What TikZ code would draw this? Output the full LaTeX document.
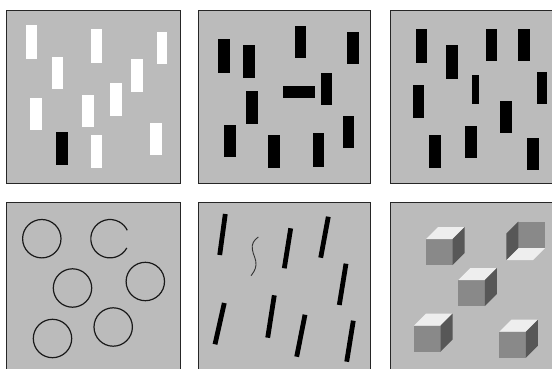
\documentclass[tikz,border=0pt]{standalone}
\definecolor{panelbg}{HTML}{BBBBBB}
\definecolor{cubefront}{HTML}{898989}
\definecolor{cubeside}{HTML}{575757}
\definecolor{cubetop}{HTML}{EEEEEE}
\begin{document}
\begin{tikzpicture}[x=1pt,y=-1pt,
  panel/.style={draw=black!85, line width=1pt, fill=panelbg},
  wbar/.style={fill=white},
  bbar/.style={fill=black},
  ring/.style={draw=black!90, line width=1.2pt},
  slant/.style={draw=black, line width=4.8pt, line cap=butt},
  squig/.style={draw=black!80, line width=0.9pt},
  cube/.pic={
    \fill[cubefront] (0,0) rectangle (26.5,26);
    \fill[cubetop] (0,0) -- (12,-12) -- (38.5,-12) -- (26.5,0) -- cycle;
    \fill[cubeside] (26.5,0) -- (38.5,-12) -- (38.5,14) -- (26.5,26) -- cycle;
  }]
\useasboundingbox (0,0) rectangle (552,369);
\fill[white] (0,0) rectangle (552,369);
\clip (0,0) rectangle (552,369);

% panels
\draw[panel] (6.5,10.5) rectangle (180,183);
\draw[panel] (198,10.5) rectangle (370.5,183);
\draw[panel] (390,10.5) rectangle (563,183);
\draw[panel] (6.5,202.3) rectangle (180,376);
\draw[panel] (198,202.3) rectangle (370.5,376);
\draw[panel] (390,202.3) rectangle (563,376);

% panel 1
\fill[wbar] (25.7,25) rectangle (37.3,58.7);
\fill[wbar] (52,57.3) rectangle (63.3,89.3);
\fill[wbar] (91.3,29.3) rectangle (101.7,63);
\fill[wbar] (157.3,32.3) rectangle (167.3,64.3);
\fill[wbar] (130.7,58.7) rectangle (142.7,92.3);
\fill[wbar] (110,83.3) rectangle (122,115.7);
\fill[wbar] (30,98.3) rectangle (41.7,130.3);
\fill[wbar] (82.3,95.3) rectangle (94.3,127.3);
\fill[bbar] (56,132) rectangle (68,165.3);
\fill[wbar] (91.3,134.7) rectangle (101.7,168.3);
\fill[wbar] (149.7,123) rectangle (161.7,155.3);

% panel 2
\fill[bbar] (218.3,39.3) rectangle (230,73);
\fill[bbar] (243.3,45.3) rectangle (255,77.7);
\fill[bbar] (294.7,26.3) rectangle (306.3,58.3);
\fill[bbar] (347.3,32.3) rectangle (358.7,64.3);
\fill[bbar] (246.3,91) rectangle (258,124.3);
\fill[bbar] (282.7,86.3) rectangle (314.7,98);
\fill[bbar] (320.7,73.3) rectangle (332.3,105.3);
\fill[bbar] (224.3,124.7) rectangle (236,156.7);
\fill[bbar] (268.3,135) rectangle (279.7,168.3);
\fill[bbar] (313.3,133.3) rectangle (323.7,166.7);
\fill[bbar] (342.7,116) rectangle (354.3,147.7);

% panel 3
\fill[bbar] (415.7,29.3) rectangle (427.3,63);
\fill[bbar] (446.3,45.3) rectangle (458,79);
\fill[bbar] (486,29.3) rectangle (497.3,61.3);
\fill[bbar] (518.3,29.3) rectangle (529.7,61.3);
\fill[bbar] (472.3,74.7) rectangle (478.7,104);
\fill[bbar] (537.3,71.7) rectangle (547.3,104);
\fill[bbar] (412.7,85) rectangle (424.3,118.3);
\fill[bbar] (500.3,101) rectangle (512,133.3);
\fill[bbar] (429,135) rectangle (440.7,168.3);
\fill[bbar] (465.3,126) rectangle (477,158);
\fill[bbar] (527,137.7) rectangle (538.7,169.7);

% panel 4
\draw[ring] (41.8,238.7) circle[radius=19.2];
\draw[ring] ([shift={(29:19.2)}]110,238.7) arc[start angle=29, end angle=334, radius=19.2];
\draw[ring] (72.5,288) circle[radius=19.2];
\draw[ring] (145.3,281.5) circle[radius=19.2];
\draw[ring] (52.5,338.5) circle[radius=19.2];
\draw[ring] (113.2,327) circle[radius=19.2];

% panel 5
\draw[slant] (225.3,214) -- (219.7,255);
\draw[slant] (290.7,228.3) -- (284.3,268.3);
\draw[slant] (328.3,216.7) -- (320.7,257.7);
\draw[slant] (346,263.7) -- (339.3,305);
\draw[slant] (224.3,303) -- (215,344.3);
\draw[slant] (274.3,295.3) -- (267.7,337.7);
\draw[slant] (305,314.7) -- (296.7,356.7);
\draw[slant] (353.3,320.7) -- (346.7,361.7);
\draw[squig] (258.3,237) .. controls (254,240) and (251.5,244) .. (252.3,249)
  .. controls (253,255) and (256.5,259) .. (256,265)
  .. controls (255.5,270) and (253,273) .. (251,275.7);

% panel 6
\pic at (426,239) {cube};
\pic at (458.3,280) {cube};
\pic at (414,325.7) {cube};
\pic at (499.3,331.7) {cube};
\fill[cubefront] (518.3,221.5) rectangle (545,248);
\fill[cubetop] (518.3,248) -- (545,248) -- (533,260) -- (506.3,260) -- cycle;
\fill[cubeside] (518.3,221.5) -- (518.3,248) -- (506.3,260) -- (506.3,233.5) -- cycle;
\end{tikzpicture}
\end{document}
